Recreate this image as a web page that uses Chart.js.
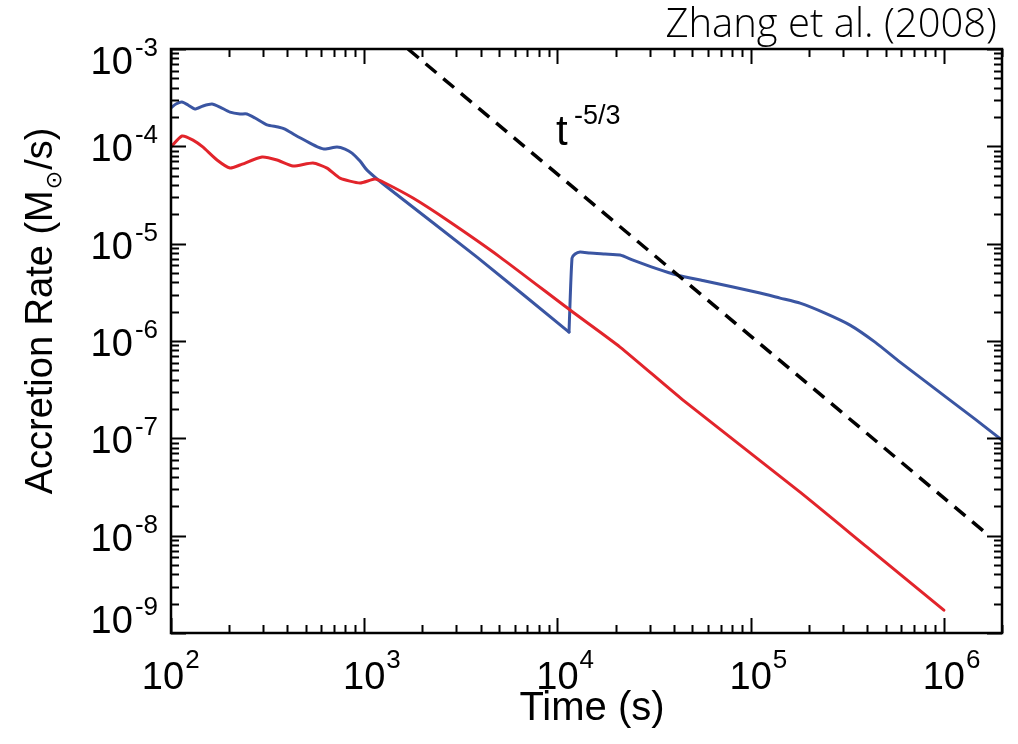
<!DOCTYPE html>
<html><head><meta charset="utf-8">
<script src="https://cdn.jsdelivr.net/npm/chart.js@4/dist/chart.umd.min.js"></script>
<style>html,body{margin:0;padding:0;background:#fff;}canvas{display:block;}</style>
</head><body>
<canvas id="c" width="1018" height="744"></canvas>
<script>
// ---- data ----
const blueTime = [100,106.1,114,122.4,133,146.5,163,179.3,202,227.6,247,272.2,314,358,389,438.4,524,576.7,626.9,723,795.5,864.8,951.3,1034,1312,3836,11480,11900,12340,13090,14750,17640,21090,24620,32010,41590,58070,81100,111900,142000,180300,242700,327000,440500,593400,799300,1076000,1451000,2000000];
const blueRate = [2.48e-4,2.72e-4,2.85e-4,2.66e-4,2.42e-4,2.60e-4,2.72e-4,2.53e-4,2.25e-4,2.15e-4,2.15e-4,1.953e-4,1.66e-4,1.58e-4,1.506e-4,1.306e-4,1.08e-4,9.83e-5,9.38e-5,9.83e-5,9.38e-5,8.53e-5,7.06e-5,5.7e-5,3.82e-5,7.28e-6,1.234e-6,7.11e-6,7.82e-6,8.2e-6,8.0e-6,7.82e-6,7.64e-6,6.78e-6,5.61e-6,4.76e-6,4.13e-6,3.58e-6,3.11e-6,2.76e-6,2.45e-6,1.935e-6,1.457e-6,9.74e-7,6.07e-7,3.87e-7,2.47e-7,1.575e-7,9.58e-8];
const blueJumpTime = 11480; // the drop ends and the rise begins here
const redTime = [100,114,130,146,173,202,227.6,296,353.8,428,543,642,749,951,1137,1281,1789,2683,5046,11620,21090,44680,180300,400500,1000000];
const redRate = [9.85e-5,1.276e-4,1.16e-4,9.85e-5,7.23e-5,5.98e-5,6.43e-5,7.76e-5,7.23e-5,6.27e-5,6.73e-5,5.98e-5,4.72e-5,4.2e-5,4.61e-5,4.2e-5,2.94e-5,1.748e-5,7.28e-6,2.08e-6,8.66e-7,2.47e-7,2.8e-8,7.62e-9,1.715e-9];
const slopeTime = [1685, 1600000];
const slopeRate = [1e-3, 1.12e-8];
const xTickExps = [2,3,4,5,6];
const yTickExps = [-3,-4,-5,-6,-7,-8,-9];
const xRange = [100, 2e6];
const yRange = [1e-9, 1e-3];
const xTitle = 'Time (s)';
const yTitleA = 'Accretion Rate (M', yTitleSub = '\u2299', yTitleB = '/s)';
const credit = 'Zhang et al. (2008)';
const slopeBase = 't', slopeExp = '-5/3';

const pts = (xs, ys) => xs.map((x, i) => ({x, y: ys[i]}));
const bluePts = pts(blueTime, blueRate);
const jIdx = blueTime.indexOf(blueJumpTime);
const blueA = bluePts.slice(0, jIdx + 1), blueB = bluePts.slice(jIdx);
const FONT = '"Liberation Sans", Arial, Helvetica, sans-serif';

const frame = {
  id: 'frame',
  afterDatasetsDraw(chart) {
    const ctx = chart.ctx, a = chart.chartArea;
    const xs = chart.scales.x, ys = chart.scales.y;
    ctx.save();
    ctx.strokeStyle = '#000';
    ctx.fillStyle = '#000';
    ctx.lineWidth = 2;
    ctx.beginPath();
    for (let k = 2; k <= 6; k++) {
      for (let m = 1; m <= 9; m++) {
        const v = m * Math.pow(10, k);
        if (v < xRange[0] || v > xRange[1]) continue;
        const px = Math.round(xs.getPixelForValue(v)) + 0.5;
        const len = m === 1 ? 15 : 8;
        ctx.moveTo(px, a.bottom); ctx.lineTo(px, a.bottom - len);
        ctx.moveTo(px, a.top); ctx.lineTo(px, a.top + len);
      }
    }
    for (let k = -9; k <= -3; k++) {
      for (let m = 1; m <= 9; m++) {
        const v = m * Math.pow(10, k);
        if (v < yRange[0] * 0.999 || v > yRange[1] * 1.001) continue;
        const py = Math.round(ys.getPixelForValue(v)) + 0.5;
        const len = m === 1 ? 15 : 8;
        ctx.moveTo(a.left, py); ctx.lineTo(a.left + len, py);
        ctx.moveTo(a.right, py); ctx.lineTo(a.right - len, py);
      }
    }
    ctx.stroke();
    ctx.lineWidth = 2.5;
    ctx.strokeRect(a.left, a.top, a.right - a.left, a.bottom - a.top);

    const big = '38px ' + FONT, small = '26px ' + FONT;
    xTickExps.forEach((e, i) => {
      let cx = xs.getPixelForValue(Math.pow(10, e));
      if (i === 0) cx -= 8;
      ctx.font = big;
      const w = ctx.measureText('10').width;
      ctx.textAlign = 'left'; ctx.textBaseline = 'alphabetic';
      ctx.fillText('10', cx - w / 2, 689);
      ctx.font = small;
      ctx.fillText(String(e), cx + w / 2 + 1, 668);
    });
    yTickExps.forEach((e, i) => {
      let py = ys.getPixelForValue(Math.pow(10, e)) + 15;
      if (i === 0) py = a.top + 25;
      if (i === yTickExps.length - 1) py = a.bottom;
      ctx.font = small;
      const we = ctx.measureText(String(e)).width;
      ctx.font = big;
      const w = ctx.measureText('10').width;
      const right = 158;
      ctx.textAlign = 'left'; ctx.textBaseline = 'alphabetic';
      ctx.fillText('10', right - we - 2 - w, py);
      ctx.font = small;
      ctx.fillText(String(e), right - we, py - 18);
    });

    ctx.font = '40px ' + FONT;
    ctx.textAlign = 'center';
    ctx.fillText(xTitle, 592, 720);

    ctx.save();
    ctx.translate(52, 311);
    ctx.rotate(-Math.PI / 2);
    ctx.textAlign = 'left';
    const tf = '38px ' + FONT, sf = '22px "DejaVu Sans", sans-serif';
    ctx.font = tf; const wA = ctx.measureText(yTitleA).width, wB = ctx.measureText(yTitleB).width;
    ctx.font = sf; const wS = ctx.measureText(yTitleSub).width;
    const total = wA + wS + wB + 2;
    let x0 = -total / 2;
    ctx.font = tf; ctx.fillText(yTitleA, x0, 0);
    ctx.font = sf; ctx.fillText(yTitleSub, x0 + wA + 1, 9);
    ctx.font = tf; ctx.fillText(yTitleB, x0 + wA + wS + 2, 0);
    ctx.restore();

    ctx.textAlign = 'left';
    ctx.font = '42px ' + FONT;
    ctx.fillText(slopeBase, 556, 145);
    ctx.font = '27px ' + FONT;
    ctx.fillText(slopeExp, 574, 124);

    ctx.font = '300 30px "Open Sans", Roboto, sans-serif';
    const cw = ctx.measureText(credit).width;
    const cs = 30 * 332 / cw;
    ctx.font = '300 ' + cs.toFixed(1) + 'px "Open Sans", Roboto, sans-serif';
    ctx.textAlign = 'right';
    ctx.fillText(credit, 997, 37);
    ctx.restore();
  }
};

const lineStyle = {pointRadius: 0, tension: 0.2, borderWidth: 3, borderJoinStyle: 'round', borderCapStyle: 'round'};
new Chart(document.getElementById('c'), {
  type: 'line',
  data: {
    datasets: [
      {data: pts(slopeTime, slopeRate), borderColor: '#000', borderWidth: 3.5, borderDash: [14, 9], pointRadius: 0, tension: 0},
      Object.assign({data: pts(redTime, redRate), borderColor: '#e2242b'}, lineStyle),
      Object.assign({data: blueA, borderColor: '#3a55a2'}, lineStyle),
      Object.assign({data: blueB, borderColor: '#3a55a2'}, lineStyle)
    ]
  },
  options: {
    responsive: false,
    animation: false,
    devicePixelRatio: 1,
    layout: {padding: {left: 171, right: 16, top: 49, bottom: 111}},
    plugins: {legend: {display: false}, tooltip: {enabled: false}},
    scales: {
      x: {type: 'logarithmic', min: xRange[0], max: xRange[1], display: false},
      y: {type: 'logarithmic', min: yRange[0], max: yRange[1], display: false}
    }
  },
  plugins: [frame]
});
</script>
</body></html>
